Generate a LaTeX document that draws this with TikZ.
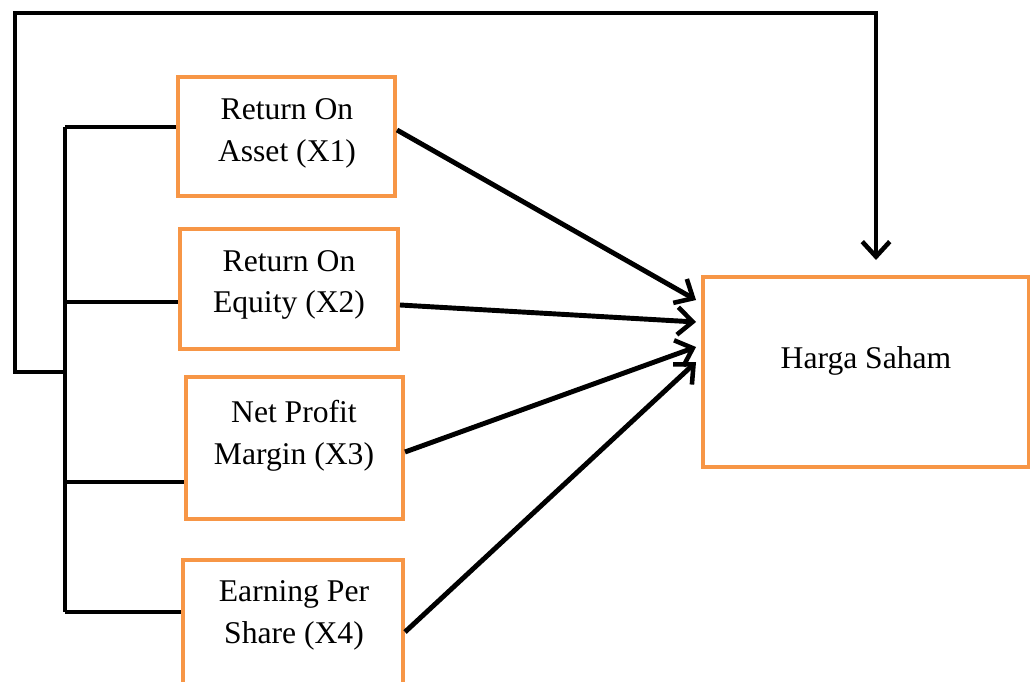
\documentclass[tikz,border=0pt]{standalone}
\usepackage{fontspec}
\setmainfont{Liberation Serif}
\usetikzlibrary{
	arrows.meta,
	positioning,
}
\definecolor{boxorange}{HTML}{F79646}
\tikzset{
	var box/.style={
		draw=boxorange,
		line width=2.3pt,
		inner sep=0mm,
	},
	var text/.style={
		align=center,
		inner sep=0mm,
		font=\fontsize{18}{23.8}\selectfont,
	},
	link/.style={
		line width=2.8pt,
		black,
	},
	link arrow/.style={
		link,
		-{Straight Barb[length=3mm,width=5.5mm,line width=2.6pt]},
	},
}

\begin{document}
\begin{tikzpicture}[x=0.02cm, y=-0.02cm]
\useasboundingbox (0,0) rectangle (1030,682);

% independent variables
\foreach \n/\x/\y/\w/\h in {
	roa/286.5/136.5/217/119,
	roe/289/289/218/120,
	npm/294.5/448/217/142,
	eps/293/630/220/140%
}{
	\node[var box, minimum width=\w*0.02cm, minimum height=\h*0.02cm] (\n) at (\x,\y) {};
}

\node[var text] (roa text) at (287,133) {Return On\\Asset (X1)};
\node[var text] (roe text) at (289,285) {Return On\\Equity (X2)};
\node[var text] (npm text) at (294,436) {Net Profit\\Margin (X3)};
\node[var text] (eps text) at (294,615) {Earning Per\\Share (X4)};

% dependent variable
\node[var box, minimum width=6.52cm, minimum height=3.8cm] (harga) at (866,372) {};
\node[var text] (harga text) at (866,361) {Harga Saham};

% bracket joining the four boxes
\coordinate (b1) at (65,127);
\coordinate (b2) at (65,302);
\coordinate (b3) at (65,482);
\coordinate (b4) at (65,612);
\draw[link] (b1) -- (b4);
\foreach \b \n in {b1/roa,b2/roe,b3/npm,b4/eps}{
	\draw[link] (\b) -- (\b -| \n.west);
}

% simultaneous path over the top
\coordinate (fork) at (65,372);
\coordinate (top) at (876,260);
\draw[link arrow] (fork) -- (15,372) -- (15,13) -- (876,13) -- (top);

% partial paths
\draw[link arrow] ([yshift=0.13cm]roa.east) -- ([xshift=-0.1cm,yshift=1.44cm]harga.west);
\draw[link arrow] ([yshift=-0.32cm]roe.east) -- ([xshift=-0.1cm,yshift=1cm]harga.west);
\draw[link arrow] ([yshift=-0.08cm]npm.east) -- ([xshift=-0.1cm,yshift=0.5cm]harga.west);
\draw[link arrow] ([yshift=-0.04cm]eps.east) -- ([xshift=-0.1cm,yshift=0.2cm]harga.west);

\end{tikzpicture}
\end{document}
